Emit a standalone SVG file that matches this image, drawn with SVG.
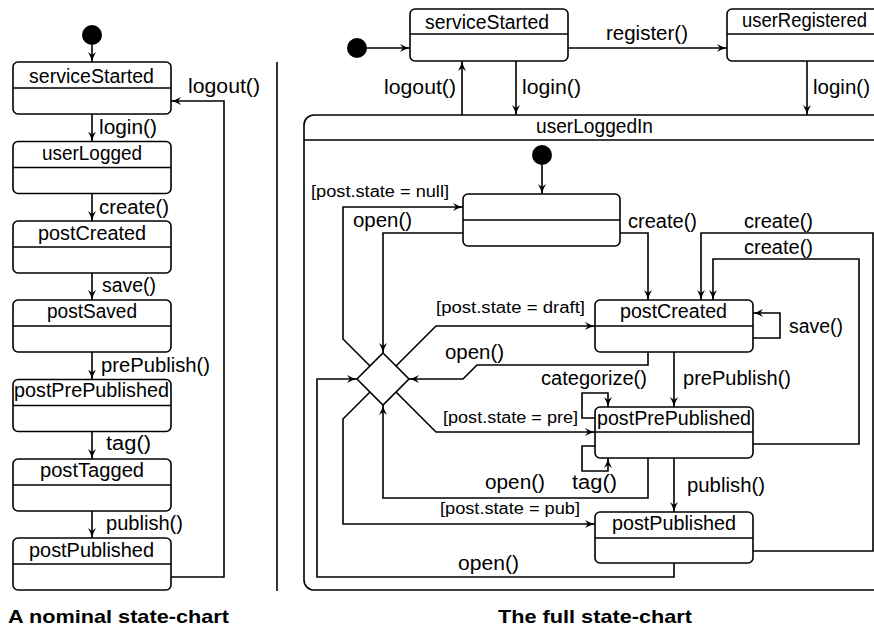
<svg xmlns="http://www.w3.org/2000/svg" width="874" height="629" viewBox="0 0 874 629">
<style>
.box{fill:#fff;stroke:#000;stroke-width:1.6}
.div{stroke:#000;stroke-width:1.6}
.c{fill:none;stroke:#000;stroke-width:1.6}
.a{marker-end:url(#arr)}
text{font-family:"Liberation Sans",Arial,sans-serif;font-size:20px;fill:#000}
.g{font-size:16px}
.cap{font-weight:bold;font-size:19px}
</style>
<defs>
<marker id="arr" viewBox="0 0 10 8" refX="10" refY="4" markerWidth="10" markerHeight="8" markerUnits="userSpaceOnUse" orient="auto">
<path d="M0,0 Q5,3 10,4 Q5,5 0,8 L3,4 z" fill="#000"/>
</marker>
</defs>
<rect width="874" height="629" fill="#fff"/>

<!-- Left chart nodes -->
<g id="L-init"><circle cx="92" cy="35" r="10" fill="#000"/></g>
<g id="L-serviceStarted"><rect class="box" x="13" y="62" width="158" height="52" rx="5"/><line class="div" x1="13" y1="88" x2="171" y2="88"/><text x="29" y="83" textLength="125" lengthAdjust="spacingAndGlyphs">serviceStarted</text></g>
<g id="L-userLogged"><rect class="box" x="13" y="141.5" width="158" height="52" rx="5"/><line class="div" x1="13" y1="167.5" x2="171" y2="167.5"/><text x="42" y="160" textLength="100" lengthAdjust="spacingAndGlyphs">userLogged</text></g>
<g id="L-postCreated"><rect class="box" x="13" y="221" width="158" height="52" rx="5"/><line class="div" x1="13" y1="247" x2="171" y2="247"/><text x="38" y="240" textLength="108" lengthAdjust="spacingAndGlyphs">postCreated</text></g>
<g id="L-postSaved"><rect class="box" x="13" y="300" width="158" height="52" rx="5"/><line class="div" x1="13" y1="326" x2="171" y2="326"/><text x="47" y="318" textLength="90" lengthAdjust="spacingAndGlyphs">postSaved</text></g>
<g id="L-postPrePublished"><rect class="box" x="13" y="379.5" width="158" height="52" rx="5"/><line class="div" x1="13" y1="405.5" x2="171" y2="405.5"/><text x="14" y="397" textLength="155" lengthAdjust="spacingAndGlyphs">postPrePublished</text></g>
<g id="L-postTagged"><rect class="box" x="13" y="459" width="158" height="52" rx="5"/><line class="div" x1="13" y1="485" x2="171" y2="485"/><text x="40" y="477" textLength="104" lengthAdjust="spacingAndGlyphs">postTagged</text></g>
<g id="L-postPublished"><rect class="box" x="13" y="538" width="158" height="52" rx="5"/><line class="div" x1="13" y1="564" x2="171" y2="564"/><text x="29" y="557" textLength="125" lengthAdjust="spacingAndGlyphs">postPublished</text></g>

<!-- Right chart nodes -->
<g id="R-userLoggedIn"><rect class="box" x="304" y="115" width="584" height="475" rx="10"/><line class="div" x1="304" y1="140" x2="888" y2="140"/><text x="536" y="133" textLength="117" lengthAdjust="spacingAndGlyphs">userLoggedIn</text></g>
<g id="R-init"><circle cx="357" cy="48" r="10" fill="#000"/></g>
<g id="R-serviceStarted"><rect class="box" x="410" y="9" width="158" height="52" rx="5"/><line class="div" x1="410" y1="34" x2="568" y2="34"/><text x="425" y="29" textLength="124" lengthAdjust="spacingAndGlyphs">serviceStarted</text></g>
<g id="R-userRegistered"><rect class="box" x="727" y="9" width="158" height="52" rx="5"/><line class="div" x1="727" y1="34" x2="885" y2="34"/><text x="742" y="27" textLength="125" lengthAdjust="spacingAndGlyphs">userRegistered</text></g>
<g id="R-inner-init"><circle cx="542" cy="155" r="10" fill="#000"/></g>
<g id="R-unnamed"><rect class="box" x="463" y="194" width="157" height="52" rx="5"/><line class="div" x1="463" y1="220" x2="620" y2="220"/></g>
<g id="R-postCreated"><rect class="box" x="595" y="300" width="158" height="52" rx="5"/><line class="div" x1="595" y1="326" x2="753" y2="326"/><text x="620" y="318" textLength="107" lengthAdjust="spacingAndGlyphs">postCreated</text></g>
<g id="R-postPrePublished"><rect class="box" x="595" y="407" width="158" height="51" rx="5"/><line class="div" x1="595" y1="432" x2="753" y2="432"/><text x="597" y="425" textLength="154" lengthAdjust="spacingAndGlyphs">postPrePublished</text></g>
<g id="R-postPublished"><rect class="box" x="595" y="512" width="158" height="51" rx="5"/><line class="div" x1="595" y1="538" x2="753" y2="538"/><text x="612" y="530" textLength="124" lengthAdjust="spacingAndGlyphs">postPublished</text></g>
<g id="R-choice"><path class="box" d="M383,353 L409,379 L383,405 L357,379 Z"/></g>

<!-- Connectors -->
<g id="connectors">
<path class="c a" d="M92,45 V62"/>
<path class="c a" d="M92,114 V141.5"/>
<path class="c a" d="M92,193.5 V221"/>
<path class="c a" d="M92,273 V300"/>
<path class="c a" d="M92,352 V379.5"/>
<path class="c a" d="M92,431.5 V459"/>
<path class="c a" d="M92,511 V538"/>
<path class="c a" d="M171,577 H224 V101 H171"/>
<line class="div" x1="277" y1="62" x2="277" y2="591"/>

<path class="c a" d="M367,48 H410"/>
<path class="c a" d="M568,48 H727"/>
<path class="c a" d="M462,115 V61"/>
<path class="c a" d="M516,61 V115"/>
<path class="c a" d="M807,61 V115"/>
<path class="c a" d="M542,165 V194"/>
<path class="c a" d="M370,366 L343,339 V207 H463"/>
<path class="c a" d="M463,233 H383 V353"/>
<path class="c a" d="M620,233 H648 V300"/>
<path class="c a" d="M753,551 H873 V233 H701 V300"/>
<path class="c a" d="M753,444 H859 V259 H713 V300"/>
<path class="c a" d="M753,338 H780 V313 H753"/>
<path class="c a" d="M396,366 L436,326 H595"/>
<path class="c a" d="M648,352 V365 H477 L463,379 H409"/>
<path class="c a" d="M674,352 V407"/>
<path class="c a" d="M595,418 H582 V393 H608 V407"/>
<path class="c a" d="M595,446 H582 V471 H608 V458"/>
<path class="c a" d="M396,392 L436,432 H595"/>
<path class="c a" d="M648,458 V498 H383 V405"/>
<path class="c a" d="M370,392 L343,419 V524 H595"/>
<path class="c a" d="M674,458 V512"/>
<path class="c a" d="M674,563 V577 H317 V379 H357"/>

<text x="188" y="93" textLength="72" lengthAdjust="spacingAndGlyphs">logout()</text>
<text x="99" y="134" textLength="58" lengthAdjust="spacingAndGlyphs">login()</text>
<text x="99" y="214" textLength="70" lengthAdjust="spacingAndGlyphs">create()</text>
<text x="102" y="292" textLength="54" lengthAdjust="spacingAndGlyphs">save()</text>
<text x="101" y="372" textLength="109" lengthAdjust="spacingAndGlyphs">prePublish()</text>
<text x="106" y="450" textLength="45" lengthAdjust="spacingAndGlyphs">tag()</text>
<text x="106" y="530" textLength="77" lengthAdjust="spacingAndGlyphs">publish()</text>

<text x="606" y="40" textLength="82" lengthAdjust="spacingAndGlyphs">register()</text>
<text x="384" y="94" textLength="72" lengthAdjust="spacingAndGlyphs">logout()</text>
<text x="522" y="94" textLength="59" lengthAdjust="spacingAndGlyphs">login()</text>
<text x="813" y="94" textLength="57" lengthAdjust="spacingAndGlyphs">login()</text>
<text class="g" x="311" y="197" textLength="138" lengthAdjust="spacingAndGlyphs">[post.state = null]</text>
<text x="353" y="227" textLength="59" lengthAdjust="spacingAndGlyphs">open()</text>
<text x="628" y="228" textLength="69" lengthAdjust="spacingAndGlyphs">create()</text>
<text x="744" y="228" textLength="69" lengthAdjust="spacingAndGlyphs">create()</text>
<text x="744" y="254" textLength="69" lengthAdjust="spacingAndGlyphs">create()</text>
<text x="789" y="333" textLength="54" lengthAdjust="spacingAndGlyphs">save()</text>
<text class="g" x="436" y="313" textLength="149" lengthAdjust="spacingAndGlyphs">[post.state = draft]</text>
<text x="445" y="359" textLength="59" lengthAdjust="spacingAndGlyphs">open()</text>
<text x="541" y="385" textLength="106" lengthAdjust="spacingAndGlyphs">categorize()</text>
<text x="683" y="385" textLength="108" lengthAdjust="spacingAndGlyphs">prePublish()</text>
<text class="g" x="443" y="423" textLength="135" lengthAdjust="spacingAndGlyphs">[post.state = pre]</text>
<text x="572" y="489" textLength="45" lengthAdjust="spacingAndGlyphs">tag()</text>
<text x="485" y="489" textLength="60" lengthAdjust="spacingAndGlyphs">open()</text>
<text x="687" y="492" textLength="78" lengthAdjust="spacingAndGlyphs">publish()</text>
<text class="g" x="440" y="514" textLength="140" lengthAdjust="spacingAndGlyphs">[post.state = pub]</text>
<text x="458" y="570" textLength="61" lengthAdjust="spacingAndGlyphs">open()</text>
</g>

<text class="cap" x="8" y="623" textLength="221" lengthAdjust="spacingAndGlyphs">A nominal state-chart</text>
<text class="cap" x="498" y="623" textLength="194" lengthAdjust="spacingAndGlyphs">The full state-chart</text>
</svg>
